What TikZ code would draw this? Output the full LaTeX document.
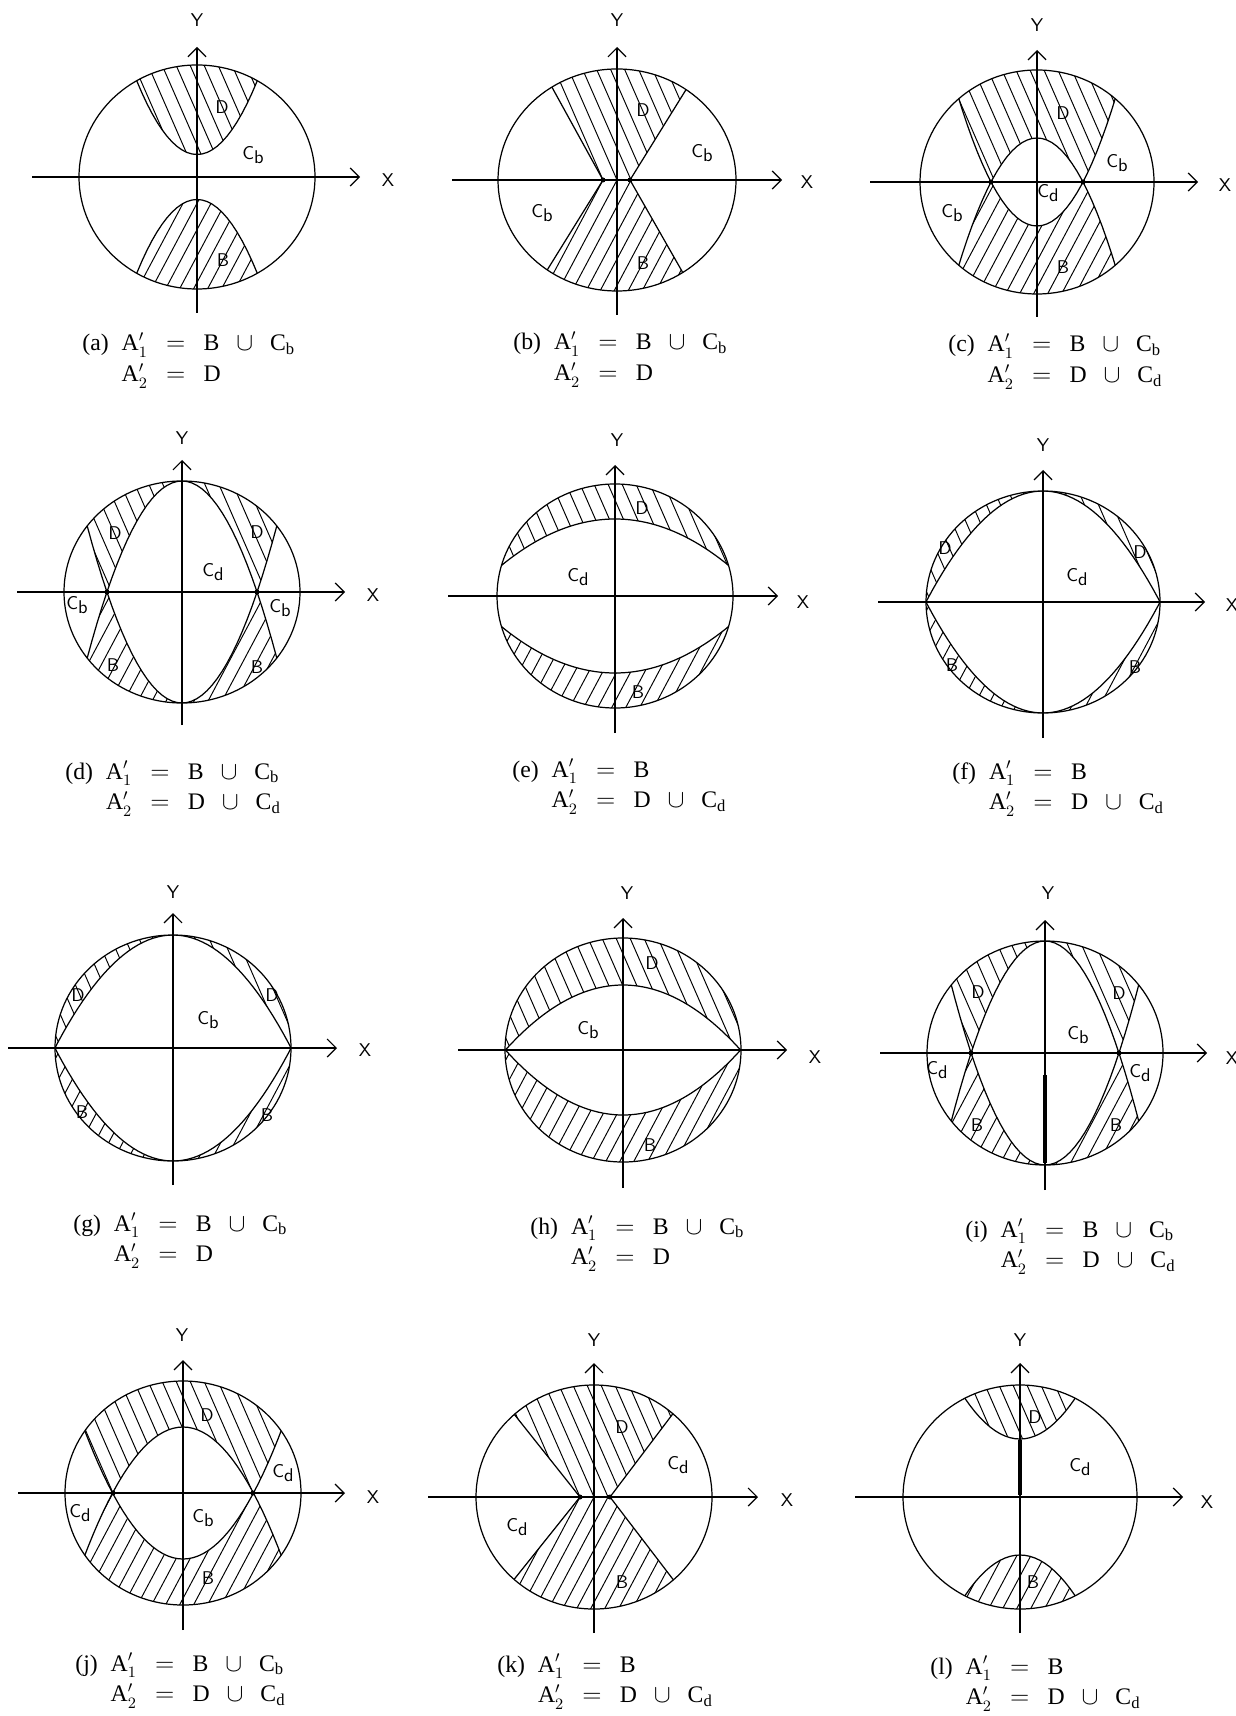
\documentclass[tikz,border=0pt]{standalone}
\usepackage{fontspec}
\setmainfont{Liberation Serif}
\usepackage{tikz}
\usetikzlibrary{arrows.meta}

% lowered index in the plot labels
\newcommand{\lsub}[1]{\raisebox{-0.55ex}{#1}}
\newcommand{\Ap}[1]{\mathrm{A}'_{#1}}
\newcommand{\gap}{\;\,}
\newcommand{\twoline}[3]{\begin{tabular}[t]{@{}l@{\hspace{2.6mm}}l@{}}#1 & #2\\ & #3\end{tabular}}

% hatching of the D and B regions
\newcommand{\hatchD}{\foreach \s in {-196,-182,...,196}{\draw[hatch] (\s+70,-160) -- (\s-70,160);}}
\newcommand{\hatchB}{\foreach \s in {-210,-196,...,210}{\draw[hatch] (\s-85,-160) -- (\s+85,160);}}

% circle with the curves y = v - K(x/100)^2 and y = -v + K(x/100)^2
\newcommand{\conics}[4]{%
  \begin{scope}
    \clip (0,0) ellipse [x radius=#1, y radius=#2];
    \clip plot[domain=-125:125, samples=51] (\x,{#3-#4*(\x/100)*(\x/100)}) -- (125,400) -- (-125,400) -- cycle;
    \clip plot[domain=-125:125, samples=51] (\x,{-1*(#3)+#4*(\x/100)*(\x/100)}) -- (125,400) -- (-125,400) -- cycle;
    \hatchD
  \end{scope}
  \begin{scope}
    \clip (0,0) ellipse [x radius=#1, y radius=#2];
    \clip plot[domain=-125:125, samples=51] (\x,{#3-#4*(\x/100)*(\x/100)}) -- (125,-400) -- (-125,-400) -- cycle;
    \clip plot[domain=-125:125, samples=51] (\x,{-1*(#3)+#4*(\x/100)*(\x/100)}) -- (125,-400) -- (-125,-400) -- cycle;
    \hatchB
  \end{scope}
  \begin{scope}
    \clip (0,0) ellipse [x radius=#1, y radius=#2];
    \draw[curve] plot[domain=-125:125, samples=51] (\x,{#3-#4*(\x/100)*(\x/100)});
    \draw[curve] plot[domain=-125:125, samples=51] (\x,{-1*(#3)+#4*(\x/100)*(\x/100)});
  \end{scope}
  \draw[rim] (0,0) ellipse [x radius=#1, y radius=#2];
}

% circle with an hourglass (waist between #3 and #4 on the x axis)
\newcommand{\waist}[8]{%
  \begin{scope}
    \clip (0,0) ellipse [x radius=#1, y radius=#2];
    \clip (#3,0) -- (#5,200) -- (#6,200) -- (#4,0) -- cycle;
    \hatchD
  \end{scope}
  \begin{scope}
    \clip (0,0) ellipse [x radius=#1, y radius=#2];
    \clip (#3,0) -- (#7,-200) -- (#8,-200) -- (#4,0) -- cycle;
    \hatchB
  \end{scope}
  \begin{scope}
    \clip (0,0) ellipse [x radius=#1, y radius=#2];
    \draw[curve] (#5,200) -- (#3,0) -- (#7,-200);
    \draw[curve] (#6,200) -- (#4,0) -- (#8,-200);
  \end{scope}
  \draw[rim] (0,0) ellipse [x radius=#1, y radius=#2];
  \fill (#3,0) circle [radius=2.5];
  \fill (#4,0) circle [radius=2.5];
}

\begin{document}
\begin{tikzpicture}[x=0.2mm, y=0.2mm,
    rim/.style={line width=0.7pt},
    curve/.style={line width=0.7pt},
    hatch/.style={line width=0.55pt},
    axis/.style={line width=0.7pt},
    axarrow/.style={-{Straight Barb[length=1.8mm, width=3.6mm]}},
    lbl/.style={font=\fontsize{10.5}{12}\sffamily, inner sep=0pt},
    capt/.style={anchor=base west, inner sep=0pt, font=\fontsize{13.5}{17.5}\selectfont}]
\useasboundingbox (0,0) rectangle (1235,-1716);

% (a)
\begin{scope}[shift={(197,-177)}]
  \conics{118}{112}{-22.5}{203}
\end{scope}
\draw[axis, axarrow] (32,-177) -- (360,-177);
\draw[axis, axarrow] (197,-313) -- (197,-47);
\node[lbl] (aY) at (197,-20) {Y};
\node[lbl] (aX) at (388,-180) {X};
\node[lbl] (aD) at (222,-107) {D};
\node[lbl] (aC) at (253,-155) {C\lsub{b}};
\node[lbl] (aB) at (223,-260) {B};
\node[capt] (acap) at (82,-351) {\twoline{(a)}{$\Ap1 \gap=\gap \mathrm{B} \gap\cup\gap \mathrm{C}_\mathrm{b}$}{$\Ap2 \gap=\gap \mathrm{D}$}};

% (b)
\begin{scope}[shift={(617,-180)}]
  \waist{119}{111}{-14}{13}{-124}{137}{-138}{127}
\end{scope}
\draw[axis, axarrow] (452,-180) -- (782,-180);
\draw[axis, axarrow] (617,-315) -- (617,-47);
\node[lbl] (bY) at (617,-20) {Y};
\node[lbl] (bX) at (807,-182) {X};
\node[lbl] (bD) at (643,-110) {D};
\node[lbl] (bC1) at (702,-153) {C\lsub{b}};
\node[lbl] (bC2) at (542,-213) {C\lsub{b}};
\node[lbl] (bB) at (643,-263) {B};
\node[capt] (bcap) at (513,-350) {\twoline{(b)}{$\Ap1 \gap=\gap \mathrm{B} \gap\cup\gap \mathrm{C}_\mathrm{b}$}{$\Ap2 \gap=\gap \mathrm{D}$}};

% (c)
\begin{scope}[shift={(1037,-182)}]
  \conics{117}{112}{44}{208}
  \fill (-46,0) circle [radius=2.5];
  \fill (46,0) circle [radius=2.5];
\end{scope}
\draw[axis, axarrow] (870,-182) -- (1198,-182);
\draw[axis, axarrow] (1037,-317) -- (1037,-50);
\node[lbl] (cY) at (1037,-25) {Y};
\node[lbl] (cX) at (1225,-185) {X};
\node[lbl] (cD) at (1063,-113) {D};
\node[lbl] (cC1) at (1117,-163) {C\lsub{b}};
\node[lbl] (cC2) at (952,-213) {C\lsub{b}};
\node[lbl] (cC3) at (1048,-193) {C\lsub{d}};
\node[lbl] (cB) at (1063,-267) {B};
\node[capt] (ccap) at (948,-352) {\twoline{(c)}{$\Ap1 \gap=\gap \mathrm{B} \gap\cup\gap \mathrm{C}_\mathrm{b}$}{$\Ap2 \gap=\gap \mathrm{D} \gap\cup\gap \mathrm{C}_\mathrm{d}$}};

% (d)
\begin{scope}[shift={(182,-592)}]
  \conics{118}{111}{111}{197}
  \fill (-75,0) circle [radius=2.5];
  \fill (75,0) circle [radius=2.5];
\end{scope}
\draw[axis, axarrow] (17,-592) -- (345,-592);
\draw[axis, axarrow] (182,-725) -- (182,-460);
\node[lbl] (dY) at (182,-438) {Y};
\node[lbl] (dX) at (373,-595) {X};
\node[lbl] (dD1) at (115,-533) {D};
\node[lbl] (dD2) at (257,-532) {D};
\node[lbl] (dC1) at (213,-572) {C\lsub{d}};
\node[lbl] (dC2) at (77,-605) {C\lsub{b}};
\node[lbl] (dC3) at (280,-608) {C\lsub{b}};
\node[lbl] (dB1) at (113,-665) {B};
\node[lbl] (dB2) at (257,-667) {B};
\node[capt] (dcap) at (65,-779) {\twoline{(d)}{$\Ap1 \gap=\gap \mathrm{B} \gap\cup\gap \mathrm{C}_\mathrm{b}$}{$\Ap2 \gap=\gap \mathrm{D} \gap\cup\gap \mathrm{C}_\mathrm{d}$}};

% (e)
\begin{scope}[shift={(615,-596)}]
  \conics{118}{112}{77}{36}
\end{scope}
\draw[axis, axarrow] (448,-596) -- (778,-596);
\draw[axis, axarrow] (615,-733) -- (615,-465);
\node[lbl] (eY) at (617,-440) {Y};
\node[lbl] (eX) at (803,-602) {X};
\node[lbl] (eD) at (642,-508) {D};
\node[lbl] (eC) at (578,-577) {C\lsub{d}};
\node[lbl] (eB) at (638,-692) {B};
\node[capt] (ecap) at (512,-777) {\twoline{(e)}{$\Ap1 \gap=\gap \mathrm{B}$}{$\Ap2 \gap=\gap \mathrm{D} \gap\cup\gap \mathrm{C}_\mathrm{d}$}};

% (f)
\begin{scope}[shift={(1043,-602)}]
  \conics{117}{111}{111}{81}
\end{scope}
\draw[axis, axarrow] (878,-602) -- (1205,-602);
\draw[axis, axarrow] (1043,-738) -- (1043,-470);
\node[lbl] (fY) at (1043,-445) {Y};
\node[lbl] (fX) at (1232,-605) {X};
\node[lbl] (fC) at (1077,-577) {C\lsub{d}};
\node[lbl] (fD1) at (945,-548) {D};
\node[lbl] (fD2) at (1140,-552) {D};
\node[lbl] (fB1) at (952,-665) {B};
\node[lbl] (fB2) at (1135,-667) {B};
\node[capt] (fcap) at (952,-779) {\twoline{(f)}{$\Ap1 \gap=\gap \mathrm{B}$}{$\Ap2 \gap=\gap \mathrm{D} \gap\cup\gap \mathrm{C}_\mathrm{d}$}};

% (g)
\begin{scope}[shift={(173,-1048)}]
  \conics{118}{113}{113}{81}
\end{scope}
\draw[axis, axarrow] (8,-1048) -- (337,-1048);
\draw[axis, axarrow] (173,-1185) -- (173,-913);
\node[lbl] (gY) at (173,-892) {Y};
\node[lbl] (gX) at (365,-1050) {X};
\node[lbl] (gC) at (208,-1020) {C\lsub{b}};
\node[lbl] (gD1) at (78,-995) {D};
\node[lbl] (gD2) at (272,-995) {D};
\node[lbl] (gB1) at (82,-1112) {B};
\node[lbl] (gB2) at (267,-1115) {B};
\node[capt] (gcap) at (73,-1231) {\twoline{(g)}{$\Ap1 \gap=\gap \mathrm{B} \gap\cup\gap \mathrm{C}_\mathrm{b}$}{$\Ap2 \gap=\gap \mathrm{D}$}};

% (h)
\begin{scope}[shift={(623,-1050)}]
  \conics{118}{112}{65}{47}
\end{scope}
\draw[axis, axarrow] (458,-1050) -- (787,-1050);
\draw[axis, axarrow] (623,-1188) -- (623,-918);
\node[lbl] (hY) at (627,-893) {Y};
\node[lbl] (hX) at (815,-1057) {X};
\node[lbl] (hD) at (652,-963) {D};
\node[lbl] (hC) at (588,-1030) {C\lsub{b}};
\node[lbl] (hB) at (650,-1145) {B};
\node[capt] (hcap) at (530,-1234) {\twoline{(h)}{$\Ap1 \gap=\gap \mathrm{B} \gap\cup\gap \mathrm{C}_\mathrm{b}$}{$\Ap2 \gap=\gap \mathrm{D}$}};

% (i)
\begin{scope}[shift={(1045,-1053)}]
  \conics{118}{112}{112}{205}
  \fill (-74,0) circle [radius=2.5];
  \fill (74,0) circle [radius=2.5];
  \draw[line width=2pt] (0,-22) -- (0,-110);
\end{scope}
\draw[axis, axarrow] (880,-1053) -- (1207,-1053);
\draw[axis, axarrow] (1045,-1190) -- (1045,-920);
\node[lbl] (iY) at (1048,-893) {Y};
\node[lbl] (iX) at (1232,-1058) {X};
\node[lbl] (iD1) at (978,-992) {D};
\node[lbl] (iD2) at (1119,-993) {D};
\node[lbl] (iC1) at (1078,-1035) {C\lsub{b}};
\node[lbl] (iC2) at (937,-1070) {C\lsub{d}};
\node[lbl] (iC3) at (1140,-1073) {C\lsub{d}};
\node[lbl] (iB1) at (977,-1125) {B};
\node[lbl] (iB2) at (1116,-1125) {B};
\node[capt] (icap) at (965,-1237) {\twoline{(i)}{$\Ap1 \gap=\gap \mathrm{B} \gap\cup\gap \mathrm{C}_\mathrm{b}$}{$\Ap2 \gap=\gap \mathrm{D} \gap\cup\gap \mathrm{C}_\mathrm{d}$}};

% (j)
\begin{scope}[shift={(183,-1493)}]
  \conics{118}{112}{66}{133}
  \fill (-70,0) circle [radius=2.5];
  \fill (70,0) circle [radius=2.5];
\end{scope}
\draw[axis, axarrow] (18,-1493) -- (345,-1493);
\draw[axis, axarrow] (183,-1630) -- (183,-1360);
\node[lbl] (jY) at (182,-1335) {Y};
\node[lbl] (jX) at (373,-1497) {X};
\node[lbl] (jD) at (207,-1415) {D};
\node[lbl] (jC1) at (283,-1473) {C\lsub{d}};
\node[lbl] (jC2) at (80,-1513) {C\lsub{d}};
\node[lbl] (jC3) at (203,-1518) {C\lsub{b}};
\node[lbl] (jB) at (208,-1578) {B};
\node[capt] (jcap) at (75,-1671) {\twoline{(j)}{$\Ap1 \gap=\gap \mathrm{B} \gap\cup\gap \mathrm{C}_\mathrm{b}$}{$\Ap2 \gap=\gap \mathrm{D} \gap\cup\gap \mathrm{C}_\mathrm{d}$}};

% (k)
\begin{scope}[shift={(594,-1497)}]
  \waist{118}{112}{-14}{16}{-173}{167}{-174}{169}
\end{scope}
\draw[axis, axarrow] (428,-1497) -- (758,-1497);
\draw[axis, axarrow] (594,-1633) -- (594,-1363);
\node[lbl] (kY) at (594,-1340) {Y};
\node[lbl] (kX) at (787,-1500) {X};
\node[lbl] (kD) at (622,-1427) {D};
\node[lbl] (kC1) at (678,-1465) {C\lsub{d}};
\node[lbl] (kC2) at (517,-1527) {C\lsub{d}};
\node[lbl] (kB) at (622,-1582) {B};
\node[capt] (kcap) at (497,-1672) {\twoline{(k)}{$\Ap1 \gap=\gap \mathrm{B}$}{$\Ap2 \gap=\gap \mathrm{D} \gap\cup\gap \mathrm{C}_\mathrm{d}$}};

% (l)
\begin{scope}[shift={(1020,-1497)}]
  \conics{117}{112}{-58}{134}
  \draw[line width=2pt] (0,57) -- (0,2);
\end{scope}
\draw[axis, axarrow] (855,-1497) -- (1183,-1497);
\draw[axis, axarrow] (1020,-1633) -- (1020,-1363);
\node[lbl] (lY) at (1020,-1340) {Y};
\node[lbl] (lX) at (1207,-1502) {X};
\node[lbl] (lD) at (1035,-1417) {D};
\node[lbl] (lC) at (1080,-1467) {C\lsub{d}};
\node[lbl] (lB) at (1033,-1582) {B};
\node[capt] (lcap) at (930,-1674) {\twoline{(l)}{$\Ap1 \gap=\gap \mathrm{B}$}{$\Ap2 \gap=\gap \mathrm{D} \gap\cup\gap \mathrm{C}_\mathrm{d}$}};
\end{tikzpicture}
\end{document}
